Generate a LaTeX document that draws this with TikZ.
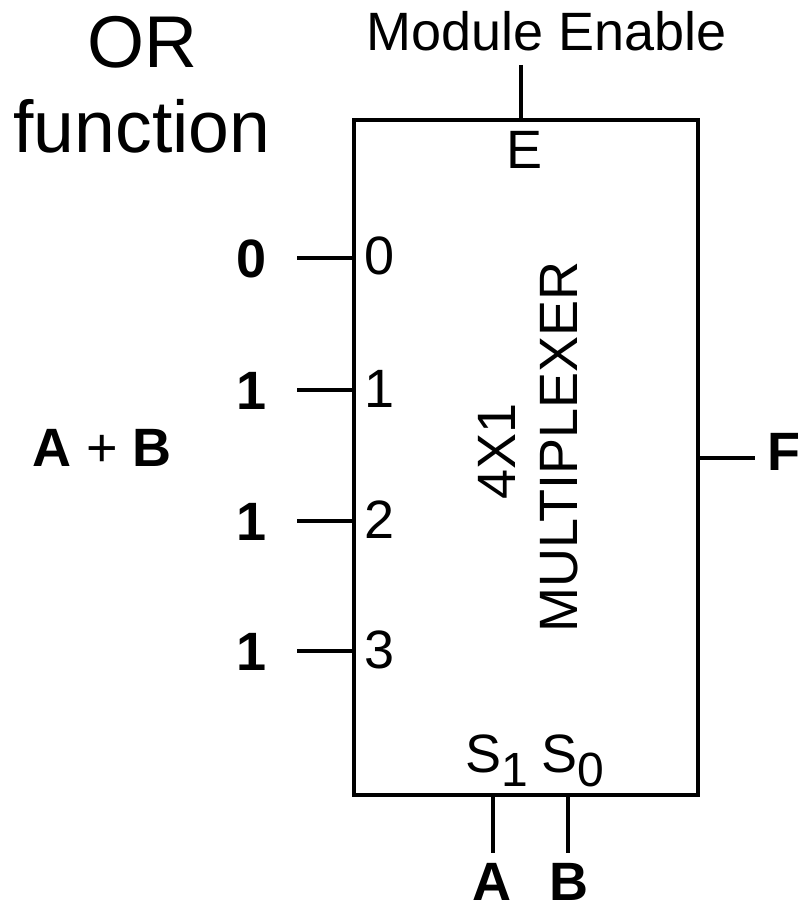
\documentclass[tikz,border=0pt]{standalone}
\usepackage{fontspec}
\setmainfont{Liberation Sans}
\begin{document}
\begin{tikzpicture}[x=0.75pt,y=-0.75pt,
  wire/.style={line width=3pt},
  txt/.style={inner sep=0pt,font=\fontsize{40.5}{40.5}\selectfont},
  btxt/.style={inner sep=0pt,font=\fontsize{40.5}{40.5}\selectfont\bfseries},
  ttl/.style={inner sep=0pt,font=\fontsize{55}{55}\selectfont}]
\useasboundingbox (0,0) rectangle (801,905);
% box
\node[draw,line width=3pt,minimum width=258pt,minimum height=506.25pt,inner sep=0pt] (mux) at (526,457.5) {};
% titles
\node[ttl,anchor=base] (or) at (142,68) {OR};
\node[ttl,anchor=base] (fn) at (142,153) {function};
\node[txt,anchor=base] (me) at (547,51) {Module Enable};
\node[txt,anchor=base] (E) at (524,169) {E};
\coordinate (entop) at (521,65);
\draw[wire] (entop) -- (entop |- mux.north);
% inputs
\foreach \i/\y/\v in {0/258/0,1/390/1,2/521/1,3/651/1}{
  \coordinate (in\i) at (297,\y);
  \draw[wire] (in\i) -- (mux.west |- in\i);
  \node[btxt,anchor=base] (v\i) at (252,\y+19) {\v};
  \node[txt,anchor=base west] (p\i) at (364,\y+17) {\i};
}
\node[btxt,anchor=base] (ab) at (102,466) {A {\mdseries+} B};
% rotated labels
\node[txt,anchor=base,rotate=90] (t41) at (515,451) {4X1};
\node[txt,anchor=base,rotate=90] (tmux) at (577,447) {MULTIPLEXER};
% output
\coordinate (fout) at (755,458);
\draw[wire] (mux.east |- fout) -- (fout);
\node[btxt,anchor=base west] (F) at (767,470) {F};
% selects
\node[txt,anchor=base west] (s1) at (465,772) {S\raisebox{-11pt}{\fontsize{36}{36}\selectfont 1}};
\node[txt,anchor=base west] (s0) at (541,772) {S\raisebox{-11pt}{\fontsize{36}{36}\selectfont 0}};
\coordinate (sa) at (493,853);
\coordinate (sb) at (568,853);
\draw[wire] (mux.south -| sa) -- (sa);
\draw[wire] (mux.south -| sb) -- (sb);
\node[btxt,anchor=base] (A) at (492,900) {A};
\node[btxt,anchor=base] (B) at (569,900) {B};
\end{tikzpicture}
\end{document}
